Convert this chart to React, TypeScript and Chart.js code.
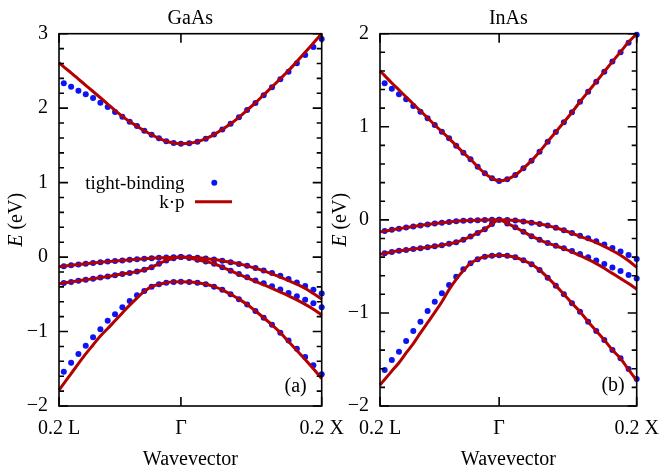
import React, { useEffect, useRef } from 'react';
import { Chart, registerables } from 'chart.js';

Chart.register(...registerables);

const FONT = '"Liberation Serif", "Times New Roman", serif';
const BLUE = '#0a14f5';
const RED = '#b40000';

// wavevector axis (fraction of 2π/a): left edge = 0.2 of Γ–L, right edge = 0.2 of Γ–X
const kEdgeL = -0.1732;
const kEdgeX = 0.2;
const xTickValues = [kEdgeL, 0, kEdgeX];
const xTickLabels = ['0.2 L', 'Γ', '0.2 X'];

// sample points of the tight-binding dots (L side, Γ, X side)
const kDots = [
  -0.1664, -0.156, -0.1456, -0.1352, -0.1248, -0.1144, -0.104, -0.0936, -0.0832,
  -0.0728, -0.0624, -0.052, -0.0416, -0.0312, -0.0208, -0.0104, 0,
  0.0118, 0.0235, 0.0353, 0.0471, 0.0588, 0.0706, 0.0824, 0.0941, 0.1059,
  0.1176, 0.1294, 0.1412, 0.1529, 0.1647, 0.1765, 0.1882, 0.2,
];
// k·p curves: same samples plus the left edge
const kLine = [kEdgeL, ...kDots];

// ---------- GaAs (a) ----------
const gaasCbDots = [2.334, 2.288, 2.234, 2.186, 2.136, 2.073, 2.016, 1.949, 1.886, 1.818, 1.76, 1.697, 1.644, 1.595, 1.555, 1.532, 1.523,
  1.528, 1.55, 1.59, 1.645, 1.714, 1.79, 1.877, 1.975, 2.069, 2.173, 2.28, 2.388, 2.49, 2.602, 2.714, 2.821, 2.929];
const gaasCbLine = [2.61, 2.555, 2.475, 2.39, 2.307, 2.224, 2.14, 2.055, 1.97, 1.89, 1.82, 1.758, 1.697, 1.643, 1.595, 1.555, 1.532, 1.523,
  1.528, 1.55, 1.59, 1.645, 1.714, 1.79, 1.877, 1.975, 2.072, 2.178, 2.285, 2.395, 2.505, 2.625, 2.75, 2.875, 3.0];
const gaasHhDots = [-0.122, -0.11, -0.099, -0.089, -0.079, -0.07, -0.061, -0.053, -0.045, -0.037, -0.03, -0.023, -0.016, -0.01, -0.005, -0.002, 0,
  -0.003, -0.01, -0.02, -0.032, -0.049, -0.07, -0.093, -0.118, -0.148, -0.18, -0.215, -0.252, -0.295, -0.34, -0.388, -0.44, -0.488];
const gaasHhLine = [-0.13, -0.122, -0.11, -0.099, -0.089, -0.079, -0.07, -0.061, -0.053, -0.045, -0.037, -0.03, -0.023, -0.016, -0.01, -0.005, -0.002, 0,
  -0.003, -0.01, -0.02, -0.032, -0.049, -0.07, -0.093, -0.118, -0.15, -0.185, -0.225, -0.268, -0.315, -0.365, -0.42, -0.49, -0.565];
const gaasLhDots = [-0.348, -0.333, -0.318, -0.304, -0.29, -0.275, -0.26, -0.244, -0.228, -0.213, -0.195, -0.17, -0.135, -0.09, -0.045, -0.015, 0,
  -0.012, -0.035, -0.06, -0.09, -0.135, -0.183, -0.228, -0.27, -0.313, -0.352, -0.392, -0.437, -0.482, -0.525, -0.573, -0.621, -0.675];
const gaasLhLine = [-0.36, -0.348, -0.333, -0.318, -0.304, -0.29, -0.275, -0.26, -0.244, -0.228, -0.213, -0.195, -0.17, -0.135, -0.09, -0.045, -0.015, 0,
  -0.012, -0.035, -0.06, -0.09, -0.135, -0.183, -0.233, -0.278, -0.325, -0.372, -0.42, -0.47, -0.52, -0.575, -0.635, -0.7, -0.778];
const gaasSoDots = [-1.539, -1.418, -1.302, -1.19, -1.077, -0.97, -0.854, -0.768, -0.675, -0.59, -0.513, -0.456, -0.398, -0.366, -0.344, -0.333, -0.331,
  -0.334, -0.345, -0.365, -0.397, -0.44, -0.5, -0.565, -0.637, -0.724, -0.815, -0.91, -1.015, -1.122, -1.23, -1.342, -1.453, -1.574];
const gaasSoLine = [-1.785, -1.7, -1.565, -1.43, -1.3, -1.18, -1.06, -0.96, -0.855, -0.75, -0.645, -0.55, -0.46, -0.398, -0.366, -0.344, -0.333, -0.331,
  -0.334, -0.345, -0.365, -0.397, -0.44, -0.5, -0.565, -0.637, -0.724, -0.815, -0.91, -1.015, -1.135, -1.255, -1.375, -1.5, -1.63];

// ---------- InAs (b) ----------
const inasCbDots = [1.467, 1.409, 1.349, 1.295, 1.223, 1.162, 1.091, 1.019, 0.947, 0.876, 0.797, 0.722, 0.651, 0.571, 0.5, 0.447, 0.418,
  0.436, 0.482, 0.554, 0.636, 0.732, 0.84, 0.944, 1.048, 1.156, 1.269, 1.377, 1.484, 1.592, 1.7, 1.8, 1.903, 1.99];
const inasCbLine = [1.6, 1.55, 1.47, 1.395, 1.32, 1.245, 1.17, 1.095, 1.019, 0.947, 0.876, 0.797, 0.722, 0.651, 0.571, 0.5, 0.447, 0.418,
  0.436, 0.482, 0.554, 0.636, 0.732, 0.84, 0.944, 1.048, 1.156, 1.269, 1.377, 1.484, 1.592, 1.7, 1.805, 1.91, 2.0];
const inasHhDots = [-0.12, -0.107, -0.095, -0.083, -0.071, -0.06, -0.049, -0.039, -0.03, -0.022, -0.015, -0.01, -0.006, -0.003, -0.001, 0, 0,
  -0.002, -0.008, -0.018, -0.03, -0.045, -0.062, -0.085, -0.112, -0.141, -0.171, -0.199, -0.229, -0.264, -0.302, -0.34, -0.378, -0.42];
const inasHhLine = [-0.13, -0.12, -0.107, -0.095, -0.083, -0.071, -0.06, -0.049, -0.039, -0.03, -0.022, -0.015, -0.01, -0.006, -0.003, -0.001, 0, 0,
  -0.002, -0.008, -0.018, -0.03, -0.045, -0.062, -0.085, -0.112, -0.143, -0.178, -0.21, -0.245, -0.285, -0.33, -0.38, -0.44, -0.51];
const inasLhDots = [-0.36, -0.345, -0.333, -0.323, -0.314, -0.305, -0.295, -0.284, -0.272, -0.258, -0.24, -0.213, -0.18, -0.14, -0.1, -0.045, 0,
  -0.04, -0.08, -0.127, -0.175, -0.215, -0.25, -0.278, -0.306, -0.335, -0.368, -0.403, -0.437, -0.474, -0.512, -0.55, -0.592, -0.63];
const inasLhLine = [-0.37, -0.36, -0.345, -0.333, -0.323, -0.314, -0.305, -0.295, -0.284, -0.272, -0.258, -0.24, -0.213, -0.18, -0.14, -0.1, -0.045, 0,
  -0.04, -0.08, -0.127, -0.175, -0.215, -0.25, -0.28, -0.31, -0.345, -0.385, -0.425, -0.47, -0.52, -0.575, -0.63, -0.685, -0.745];
const inasSoDots = [-1.613, -1.506, -1.416, -1.301, -1.194, -1.094, -0.979, -0.879, -0.789, -0.7, -0.611, -0.531, -0.467, -0.424, -0.396, -0.385, -0.38,
  -0.385, -0.402, -0.435, -0.477, -0.539, -0.621, -0.707, -0.8, -0.896, -0.987, -1.094, -1.194, -1.291, -1.398, -1.487, -1.602, -1.71];
const inasSoLine = [-1.774, -1.715, -1.625, -1.535, -1.43, -1.33, -1.215, -1.105, -0.995, -0.88, -0.75, -0.64, -0.545, -0.467, -0.424, -0.396, -0.385, -0.38,
  -0.385, -0.402, -0.435, -0.477, -0.539, -0.621, -0.707, -0.8, -0.896, -0.987, -1.094, -1.194, -1.291, -1.398, -1.49, -1.61, -1.725];

const gaasTickValues = [-2, -1, 0, 1, 2, 3];
const gaasTickLabels = ['−2', '−1', '0', '1', '2', '3'];
const inasTickValues = [-2, -1, 0, 1, 2];
const inasTickLabels = ['−2', '−1', '0', '1', '2'];

const legendLabels = ['tight-binding', 'k·p'];

const DOT_R = 3;

type PanelSpec = {
  title: string;
  tag: string;
  yMin: number;
  yMax: number;
  tickValues: number[];
  tickLabels: string[];
  dots: number[][];
  lines: number[][];
  axisWidth: number;
  padRight: number;
  yTitleX: number;
  tagRight: number;
  tagBottom: number;
  legend: boolean;
};

const panels: PanelSpec[] = [
  {
    title: 'GaAs', tag: '(a)', yMin: -2, yMax: 3,
    tickValues: gaasTickValues, tickLabels: gaasTickLabels,
    dots: [gaasCbDots, gaasHhDots, gaasLhDots, gaasSoDots],
    lines: [gaasCbLine, gaasHhLine, gaasLhLine, gaasSoLine],
    axisWidth: 59, padRight: 38.3, yTitleX: 22, tagRight: 15, tagBottom: 14, legend: true,
  },
  {
    title: 'InAs', tag: '(b)', yMin: -2, yMax: 2,
    tickValues: inasTickValues, tickLabels: inasTickLabels,
    dots: [inasCbDots, inasHhDots, inasLhDots, inasSoDots],
    lines: [inasCbLine, inasHhLine, inasLhLine, inasSoLine],
    axisWidth: 50, padRight: 53.3, yTitleX: 16, tagRight: 12, tagBottom: 15, legend: false,
  },
];

function buildChart(canvas: HTMLCanvasElement, p: PanelSpec) {
  const decor = {
    id: 'decor',
    afterDraw(chart: any) {
      const { ctx, chartArea } = chart;
      const { left, right, top, bottom } = chartArea;
      const xs = chart.scales.x;
      const ys = chart.scales.y;
      ctx.save();
      ctx.strokeStyle = '#000';
      ctx.lineWidth = 1.6;
      ctx.lineCap = 'butt';
      ctx.beginPath();
      ys.ticks.forEach((t: any) => {
        const py = ys.getPixelForValue(t.value);
        const major = Math.abs(t.value - Math.round(t.value)) < 1e-6;
        const len = major ? 9 : 5;
        ctx.moveTo(left, py); ctx.lineTo(left + len, py);
        ctx.moveTo(right, py); ctx.lineTo(right - len, py);
      });
      xs.ticks.forEach((t: any) => {
        const px = xs.getPixelForValue(t.value);
        ctx.moveTo(px, top); ctx.lineTo(px, top + 9);
        ctx.moveTo(px, bottom); ctx.lineTo(px, bottom - 9);
      });
      ctx.stroke();
      ctx.strokeRect(left, top, right - left, bottom - top);

      ctx.fillStyle = '#000';
      ctx.font = `20px ${FONT}`;
      ctx.textAlign = 'center';
      ctx.textBaseline = 'alphabetic';
      ctx.fillText(p.title, (left + right) / 2, 23.5);

      ctx.textAlign = 'right';
      ctx.fillText(p.tag, right - p.tagRight, bottom - p.tagBottom);

      // y title: italic E + (eV)
      ctx.save();
      ctx.translate(p.yTitleX, (top + bottom) / 2);
      ctx.rotate(-Math.PI / 2);
      const italic = `italic 20px ${FONT}`;
      const regular = `20px ${FONT}`;
      ctx.font = italic;
      const wE = ctx.measureText('E').width;
      ctx.font = regular;
      const wR = ctx.measureText(' (eV)').width;
      const start = -(wE + wR) / 2;
      ctx.textAlign = 'left';
      ctx.font = italic;
      ctx.fillText('E', start, 0);
      ctx.font = regular;
      ctx.fillText(' (eV)', start + wE, 0);
      ctx.restore();

      if (p.legend) {
        ctx.font = `19px ${FONT}`;
        ctx.textAlign = 'right';
        ctx.fillText(legendLabels[0], 184.5, 189);
        ctx.fillText(legendLabels[1], 184.5, 208);
        ctx.fillStyle = BLUE;
        ctx.beginPath();
        ctx.arc(214.3, 182.7, DOT_R, 0, Math.PI * 2);
        ctx.fill();
        ctx.strokeStyle = RED;
        ctx.lineWidth = 3;
        ctx.beginPath();
        ctx.moveTo(195, 201.7);
        ctx.lineTo(232, 201.7);
        ctx.stroke();
      }
      ctx.restore();
    },
  };

  const lineSets = p.lines.map((ys) => ({
    data: kLine.map((k, i) => ({ x: k, y: ys[i] })),
    showLine: true,
    borderColor: RED,
    borderWidth: 3,
    pointRadius: 0,
    cubicInterpolationMode: 'monotone',
    fill: false,
    clip: false,
    order: 0,
  }));
  const dotSets = p.dots.map((ys) => ({
    data: kDots.map((k, i) => ({ x: k, y: ys[i] })),
    showLine: false,
    backgroundColor: BLUE,
    borderColor: BLUE,
    borderWidth: 0,
    pointRadius: DOT_R,
    clip: false,
    order: 1,
  }));

  return new Chart(canvas, {
    type: 'scatter',
    data: { datasets: [...lineSets, ...dotSets] as any },
    options: {
      responsive: false,
      animation: false,
      events: [],
      layout: { padding: { left: 0, top: 33.7, right: p.padRight, bottom: 0 } },
      plugins: {
        legend: { display: false },
        tooltip: { enabled: false },
        title: { display: false },
      },
      scales: {
        x: {
          type: 'linear',
          min: kEdgeL,
          max: kEdgeX,
          afterBuildTicks: (s: any) => { s.ticks = xTickValues.map((v) => ({ value: v })); },
          afterFit: (s: any) => { s.height = 66; },
          grid: { display: false, drawTicks: false },
          border: { display: false },
          ticks: {
            autoSkip: false,
            maxRotation: 0,
            padding: 11,
            color: '#000',
            font: { family: FONT, size: 20 },
            callback: (_v: any, i: number) => xTickLabels[i],
          },
          title: {
            display: true,
            text: 'Wavevector',
            color: '#000',
            font: { family: FONT, size: 20 },
            padding: 0,
          },
        },
        y: {
          type: 'linear',
          min: p.yMin,
          max: p.yMax,
          afterFit: (s: any) => { s.width = p.axisWidth; },
          grid: { display: false, drawTicks: false },
          border: { display: false },
          ticks: {
            stepSize: 0.2,
            autoSkip: false,
            padding: 11,
            color: '#000',
            font: { family: FONT, size: 20 },
            callback: (v: any) => {
              const i = p.tickValues.findIndex((t) => Math.abs(t - v) < 1e-6);
              return i >= 0 ? p.tickLabels[i] : '';
            },
          },
        },
      },
    } as any,
    plugins: [decor],
  });
}

export default function App() {
  const refA = useRef<HTMLCanvasElement>(null);
  const refB = useRef<HTMLCanvasElement>(null);

  useEffect(() => {
    const a = buildChart(refA.current!, panels[0]);
    const b = buildChart(refB.current!, panels[1]);
    return () => { a.destroy(); b.destroy(); };
  }, []);

  return (
    <div style={{ position: 'fixed', left: 0, top: 0, width: 659, height: 472, overflow: 'hidden', background: '#fff' }}>
      <canvas ref={refA} width={360} height={472} style={{ position: 'absolute', left: 0, top: 0 }} />
      <canvas ref={refB} width={360} height={472} style={{ position: 'absolute', left: 330, top: 0 }} />
    </div>
  );
}
